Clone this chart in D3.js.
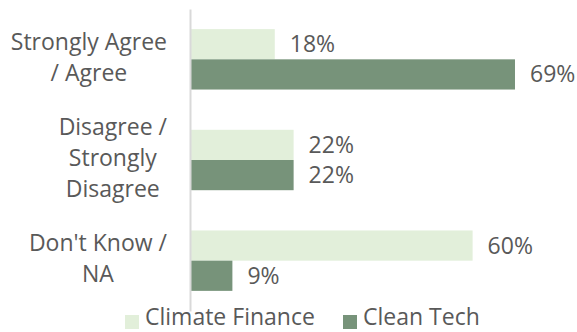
<!DOCTYPE html>
<html>
<head>
<meta charset="utf-8">
<script src="https://cdn.jsdelivr.net/npm/d3@7"></script>
<style>
  html, body { margin: 0; padding: 0; background: #ffffff; }
  svg { display: block; }
  text { font-family: "Open Sans", "Noto Sans", sans-serif; }
</style>
</head>
<body>
<svg id="chart" width="577" height="332"></svg>
<script>
const categories = [
  ["Strongly Agree", "/ Agree"],
  ["Disagree /", "Strongly", "Disagree"],
  ["Don't Know /", "NA"]
];
const categoryKeys = ["agree", "disagree", "dontknow"];
const seriesNames = ["Climate Finance", "Clean Tech"];
const climateFinance = [18, 22, 60];
const cleanTech = [69, 22, 9];
const seriesColors = ["#E2EFDA", "#77937A"];

const W = 577, H = 332;
const svg = d3.select("#chart");
const fontSize = 23;
const textColor = "#595959";

const x = d3.scaleLinear().domain([0, 80]).range([190, 190 + 80 * 4.71]);
const y = d3.scaleBand().domain(categoryKeys).range([9, 311]).paddingInner(0.4).paddingOuter(0.2);
const ySub = d3.scaleBand().domain(seriesNames).range([0, y.bandwidth()]);

const seriesValues = [climateFinance, cleanTech];

// bars
seriesNames.forEach((name, si) => {
  svg.append("g").selectAll("rect")
    .data(seriesValues[si])
    .join("rect")
    .attr("x", x(0))
    .attr("y", (d, i) => y(categoryKeys[i]) + ySub(name))
    .attr("width", d => x(d) - x(0))
    .attr("height", ySub.bandwidth())
    .attr("fill", seriesColors[si]);
  svg.append("g").selectAll("text")
    .data(seriesValues[si])
    .join("text")
    .attr("x", d => x(d) + 15)
    .attr("y", (d, i) => y(categoryKeys[i]) + ySub(name) + ySub.bandwidth() / 2 + 8)
    .attr("font-size", fontSize)
    .attr("fill", textColor)
    .text(d => d + "%");
});

// axis line
const yAxis = d3.axisLeft(y).tickSize(0).tickFormat("");
const axG = svg.append("g").attr("transform", `translate(${x(0)},0)`).call(yAxis);
axG.select(".domain").attr("stroke", "#D9D9D9").attr("stroke-width", 2);

// category labels (block right aligned, lines centered)
const labG = svg.append("g");
categories.forEach((lines, ci) => {
  const center = y(categoryKeys[ci]) + y.bandwidth() / 2;
  const g = labG.append("g");
  const ts = g.selectAll("text").data(lines).join("text")
    .attr("font-size", fontSize)
    .attr("fill", textColor)
    .attr("text-anchor", "middle")
    .attr("y", (d, i) => center + 6 + (i - (lines.length - 1) / 2) * 31)
    .text(d => d);
  let maxW = 0;
  ts.each(function () { maxW = Math.max(maxW, this.getComputedTextLength()); });
  ts.attr("x", 167 - maxW / 2);
});

// legend
const legendX = [125, 343];
const leg = svg.append("g");
seriesNames.forEach((name, si) => {
  leg.append("rect").attr("x", legendX[si]).attr("y", 315).attr("width", 14).attr("height", 14)
    .attr("fill", seriesColors[si]);
  leg.append("text").attr("x", legendX[si] + 20).attr("y", 325)
    .attr("font-size", fontSize).attr("fill", textColor).text(name);
});
</script>
</body>
</html>
